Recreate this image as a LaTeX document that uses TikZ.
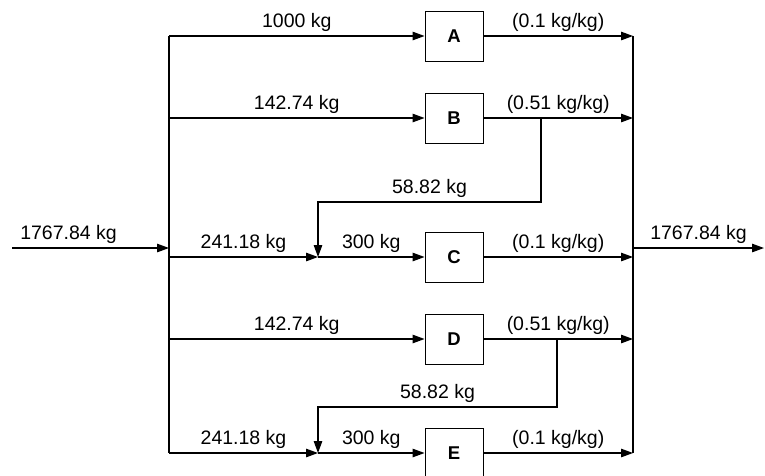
\documentclass[tikz,border=0pt]{standalone}
\usepackage{fontspec}
\setsansfont{Liberation Sans}
\usepackage{tikz}
\usetikzlibrary{arrows.meta}
\usetikzlibrary{positioning}

\begin{document}
\begin{tikzpicture}[x=1pt,y=-1pt,
                    flow/.style={-{Triangle[length=12pt,width=8.5pt]},line width=1.2pt},
                    bus/.style={line width=1.2pt},
                    lbl/.style={above=1.5pt,inner sep=2pt,font=\sffamily\fontsize{19.5}{22}\selectfont},
                    unit/.style={draw,line width=0.9pt,minimum width=58pt,minimum height=50pt,
                                 font=\sffamily\bfseries\fontsize{18.5}{22}\selectfont}]

  \useasboundingbox (0,0) rectangle (765,475);

  % units
  \node[unit] (A) at (454,36) {A};
  \node[unit] (B) at (454,118) {B};
  \node[unit] (C) at (454,257) {C};
  \node[unit] (D) at (454,339) {D};
  \node[unit] (E) at (454,453) {E};

  % left and right bus
  \coordinate (inl) at (12,248);
  \coordinate (lin) at (169,248);
  \coordinate (lA) at (169,36);
  \coordinate (lB) at (169,118);
  \coordinate (lC) at (169,257);
  \coordinate (lD) at (169,339);
  \coordinate (lE) at (169,453);
  \coordinate (rA) at (633,36);
  \coordinate (rB) at (633,118);
  \coordinate (rC) at (633,257);
  \coordinate (rD) at (633,339);
  \coordinate (rE) at (633,453);
  \coordinate (rout) at (633,248);
  \coordinate (out) at (764,248);

  % mixing points and recycle bends
  \coordinate (mC) at (318,257);
  \coordinate (mE) at (318,453);
  \coordinate (sB) at (541,118);
  \coordinate (sD) at (557,339);
  \coordinate (tB) at (318,202);
  \coordinate (tE) at (318,407);

  \draw[bus] (lA) -- (lE);
  \draw[bus] (rA) -- (rE);

  \path[flow]
    (inl) edge node[lbl,pos=0.36] {1767.84 kg} (lin)
    (rout) edge node[lbl] {1767.84 kg} (out)
    (lA) edge node[lbl] {1000 kg} (A)
    (lB) edge node[lbl] {142.74 kg} (B)
    (lC) edge node[lbl] {241.18 kg} (mC)
    (mC) edge node[lbl] {300 kg} (C)
    (lD) edge node[lbl] {142.74 kg} (D)
    (lE) edge node[lbl] {241.18 kg} (mE)
    (mE) edge node[lbl] {300 kg} (E)
    (A) edge node[lbl] {(0.1 kg/kg)} (rA)
    (B) edge node[lbl] {(0.51 kg/kg)} (rB)
    (C) edge node[lbl] {(0.1 kg/kg)} (rC)
    (D) edge node[lbl] {(0.51 kg/kg)} (rD)
    (E) edge node[lbl] {(0.1 kg/kg)} (rE);

  % recycle streams
  \draw[flow] (sB) |- (tB) node[lbl,pos=0.75] {58.82 kg} -- (mC);
  \draw[flow] (sD) |- (tE) node[lbl,pos=0.75] {58.82 kg} -- (mE);
\end{tikzpicture}
\end{document}
